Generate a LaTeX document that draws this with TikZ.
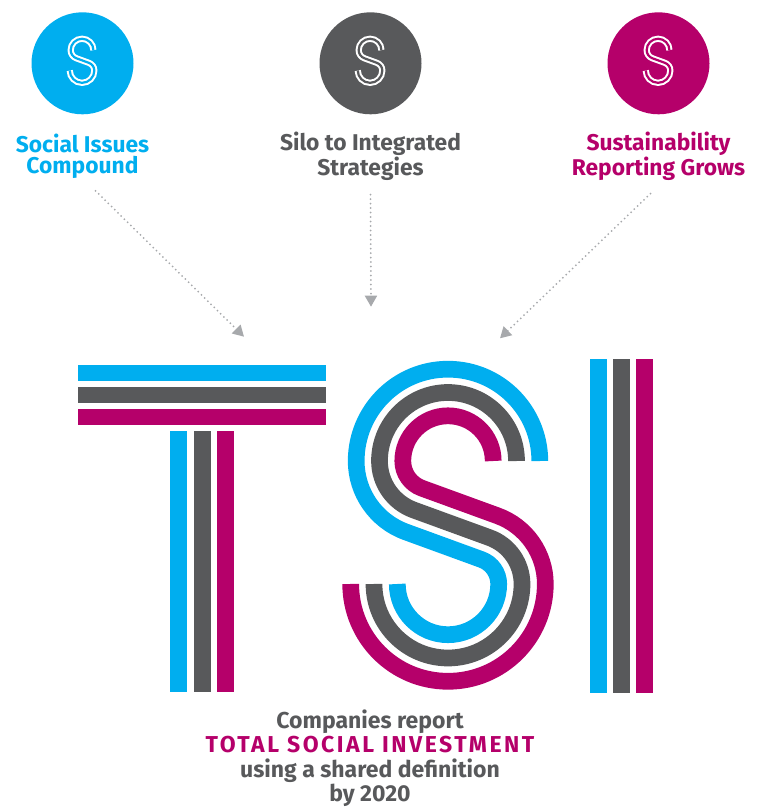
\documentclass[tikz,border=0pt]{standalone}
\usepackage{fontspec}
\setmainfont{Fira Sans}
\usetikzlibrary{arrows.meta}
\definecolor{tsiblue}{HTML}{00AEEF}
\definecolor{tsigray}{HTML}{58595B}
\definecolor{tsimag}{HTML}{B5006A}
\definecolor{feedgray}{HTML}{A7A9AC}
% one strand of the S, #1 = offset to the right of the middle line
\newcommand{\strand}[1]{({448+68.5+#1},461)
  arc[start angle=0,end angle=-180,radius={68.5+#1}]
  arc[start angle=180,end angle=110,radius={52.2+#1}]
  -- ({472.7+0.342*(49.3-#1)},{584-0.94*(49.3-#1)})
  arc[start angle=-70,end angle=0,radius={49.3-#1}]
  arc[start angle=0,end angle=180,radius={74-#1}]}

\begin{document}
\begin{tikzpicture}[x=1pt,y=-1pt,node distance=288pt,
  badge/.style={circle,inner sep=0pt,minimum size=102pt},
  lbl/.style={align=center,inner sep=0pt,font=\bfseries\fontsize{22.8}{21}\selectfont},
  feed/.style={-{Triangle[width=12pt 0 0,length=11pt 0 0]},color=feedgray,line width=2pt,
    dash pattern=on 0pt off 4.5pt,line cap=round},
  strandline/.style={line width=16.7pt},
  mini/.style={draw=white,line width=2pt,double distance=2.2pt}]
  \useasboundingbox (0,0) rectangle (756,808);
  \node[badge,fill=tsiblue] (1) at (82.5,63.3) {};
  \node[badge,fill=tsigray] (2) [right of=1] {};
  \node[badge,fill=tsimag] (3) [right of=2] {};
  \node[lbl,text=tsiblue] (4) [below of=1,node distance=93pt] {Social Issues\\Compound};
  \node[lbl,text=tsigray] (5) [below of=2,node distance=93pt] {Silo to Integrated\\Strategies};
  \node[lbl,text=tsimag] (6) [below of=3,node distance=93pt] {Sustainability\\Reporting Grows};
  \coordinate (7) at (244,336.7);
  \coordinate (8) at (371,306.7);
  \coordinate (9) at (500,338.3);
  \path[feed]
    ([xshift=13pt,yshift=-12pt]4.south) edge (7)
    ([yshift=-14pt]5.south) edge (8)
    ([xshift=-8pt,yshift=-13pt]6.south) edge (9);
  % S marks in the badges
  \foreach \n/\c in {1/tsiblue,2/tsigray,3/tsimag}
    \draw[mini,double=\c,shift={(\n)},yshift=2.5pt,scale=0.166,shift={(-450.75,-525.25)}] \strand{0};
  % T, S and I in three stripes
  \foreach \c [count=\i from 0] in {tsiblue,tsigray,tsimag} {
    \fill[\c] (78,{365+22*\i}) rectangle (325.7,{380.7+22*\i});
    \fill[\c] ({170+23.5*\i},431) rectangle ({187+23.5*\i},691.7);
    \fill[\c] ({590+23*\i},359) rectangle ({607+23*\i},692.7);
    \draw[\c,strandline] \strand{23.3*(1-\i)};
  }
  \node[align=center,inner sep=0pt,text=tsigray,font=\bfseries\fontsize{23}{24.5}\selectfont]
    (10) at (370,758) {Companies report\\{\color{tsimag}\addfontfeature{LetterSpace=11}TOTAL SOCIAL INVESTMENT}\\using a shared definition\\by 2020};
\end{tikzpicture}
\end{document}
